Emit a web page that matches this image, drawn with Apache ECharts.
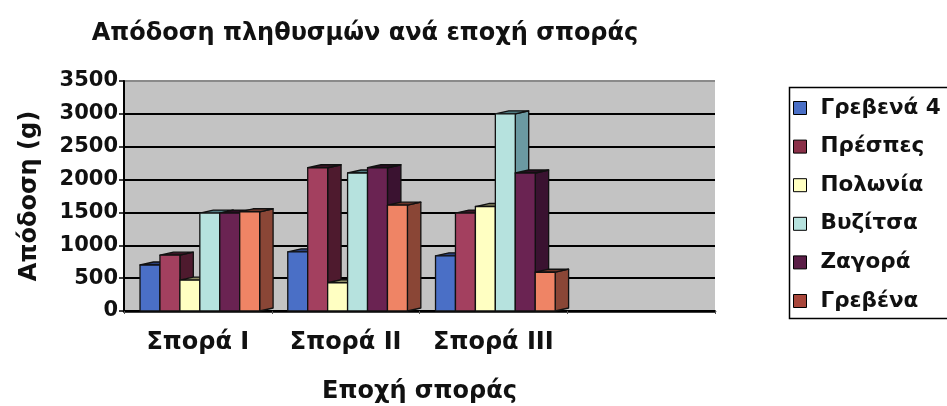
<!DOCTYPE html>
<html><head><meta charset="utf-8">
<script src="https://cdn.jsdelivr.net/npm/echarts@6/dist/echarts.min.js"></script>
<style>html,body{margin:0;padding:0;background:#fff}#c{width:947px;height:406px}</style>
</head><body><div id="c"></div>
<script>
const categories = ['Σπορά I', 'Σπορά II', 'Σπορά III', ''];
const seriesNames = ['Γρεβενά 4', 'Πρέσπες', 'Πολωνία', 'Βυζίτσα', 'Ζαγορά', 'Γρεβένα'];
const grevena4 = [700, 900, 840];
const prespes = [850, 2180, 1490];
const polonia = [470, 430, 1590];
const vyzitsa = [1490, 2100, 3000];
const zagora = [1490, 2180, 2100];
const grevena = [1510, 1610, 590];
const yTicks = [0, 500, 1000, 1500, 2000, 2500, 3000, 3500];

const values = [grevena4, prespes, polonia, vyzitsa, zagora, grevena];
const frontColors = ['#4a6fc6', '#a3405f', '#ffffc2', '#b6e2de', '#6a2352', '#ef8465'];
const sideColors = ['#2c4688', '#4e1a2e', '#b8b88a', '#6b9aa2', '#3a1230', '#8a4636'];
const topColors = ['#2a3f78', '#3a1424', '#8e8e66', '#4f7a80', '#2a0c22', '#6a3428'];
const legendColors = ['#4a6fc6', '#8a3048', '#ffffc2', '#b6e2de', '#5a1d46', '#a8463a'];
const font = 'DejaVu Sans';

function makeRender(si) {
  return function (params, api) {
    const x = api.value(0), v = api.value(1);
    const base = api.coord([x, 0]);
    const top = api.coord([x, v]);
    const catW = api.size([1, 0])[0];
    const slot = catW * 19.3 / 143;
    const left = base[0] - catW / 2 + catW * 15.5 / 143 + si * slot;
    const right = left + slot;
    const dx = catW * 13 / 143, dy = 3;
    const y0 = base[1], y1 = top[1];
    const stroke = {stroke: '#111', lineWidth: 1.3, lineJoin: 'round'};
    return {
      type: 'group',
      children: [
        {type: 'polygon', shape: {points: [[right, y1], [right + dx, y1 - dy], [right + dx, y0 - dy], [right, y0]]},
          style: Object.assign({fill: sideColors[si]}, stroke)},
        {type: 'polygon', shape: {points: [[left, y1], [left + dx, y1 - dy], [right + dx, y1 - dy], [right, y1]]},
          style: Object.assign({fill: topColors[si]}, stroke)},
        {type: 'rect', shape: {x: left, y: y1, width: slot, height: y0 - y1},
          style: Object.assign({fill: frontColors[si]}, stroke)}
      ]
    };
  };
}

const chart = echarts.init(document.getElementById('c'), null, {renderer: 'canvas'});
chart.setOption({
  animation: false,
  backgroundColor: '#fff',
  title: {
    text: 'Απόδοση πληθυσμών ανά εποχή σποράς',
    left: 360, top: 17, textAlign: 'center',
    textStyle: {fontFamily: font, fontWeight: 'bold', fontSize: 24, color: '#111'}
  },
  graphic: [{
    type: 'rect', silent: true, z: -1,
    shape: {x: 789.5, y: 87.5, width: 200, height: 231},
    style: {fill: '#fff', stroke: '#000', lineWidth: 1.5}
  }],
  legend: {
    orient: 'vertical', left: 789, top: 87,
    padding: [10, 10, 10, 4], itemGap: 16.6,
    itemWidth: 13, itemHeight: 13, icon: 'rect',
    borderWidth: 0,
    data: seriesNames.map((n, i) => ({name: n, itemStyle: {color: legendColors[i], borderColor: '#000', borderWidth: 1}})),
    textStyle: {fontFamily: font, fontWeight: 'bold', fontSize: 21.5, color: '#111', padding: [0, 0, 0, 9]}
  },
  grid: {left: 124, right: 232, top: 81, bottom: 95, show: true, backgroundColor: '#c3c3c3', borderWidth: 0,
    outerBoundsMode: 'none', containLabel: false},
  xAxis: {
    type: 'category', data: categories,
    name: 'Εποχή σποράς', nameLocation: 'middle', nameGap: 69,
    nameTextStyle: {fontFamily: font, fontWeight: 'bold', fontSize: 24, color: '#111'},
    axisLine: {lineStyle: {color: '#000', width: 2.5}},
    axisTick: {show: true, inside: false, length: 3, lineStyle: {color: '#555'}},
    axisLabel: {fontFamily: font, fontWeight: 'bold', fontSize: 24, color: '#111', margin: 20,
      interval: 0, hideOverlap: false}
  },
  yAxis: {
    type: 'value', min: 0, max: 3500, interval: 500,
    name: 'Απόδοση (g)', nameLocation: 'middle', nameGap: 82, nameRotate: 90,
    nameTextStyle: {fontFamily: font, fontWeight: 'bold', fontSize: 24, color: '#111'},
    axisLine: {show: true, lineStyle: {color: '#000', width: 2}},
    axisTick: {show: true, length: 5, lineStyle: {color: '#000', width: 1.5}},
    splitLine: {lineStyle: {color: ['#000', '#000', '#000', '#000', '#000', '#000', '#000', '#8a8a8a'], width: 2}},
    axisLabel: {fontFamily: font, fontWeight: 'bold', fontSize: 21, color: '#111', margin: 6,
      formatter: v => yTicks.includes(v) ? String(v) : ''}
  },
  series: seriesNames.map((n, i) => ({
    name: n, type: 'custom',
    renderItem: makeRender(i),
    itemStyle: {color: frontColors[i]},
    encode: {x: 0, y: 1},
    data: values[i].map((v, k) => [k, v]),
    z: 2 + i
  }))
});
</script></body></html>
